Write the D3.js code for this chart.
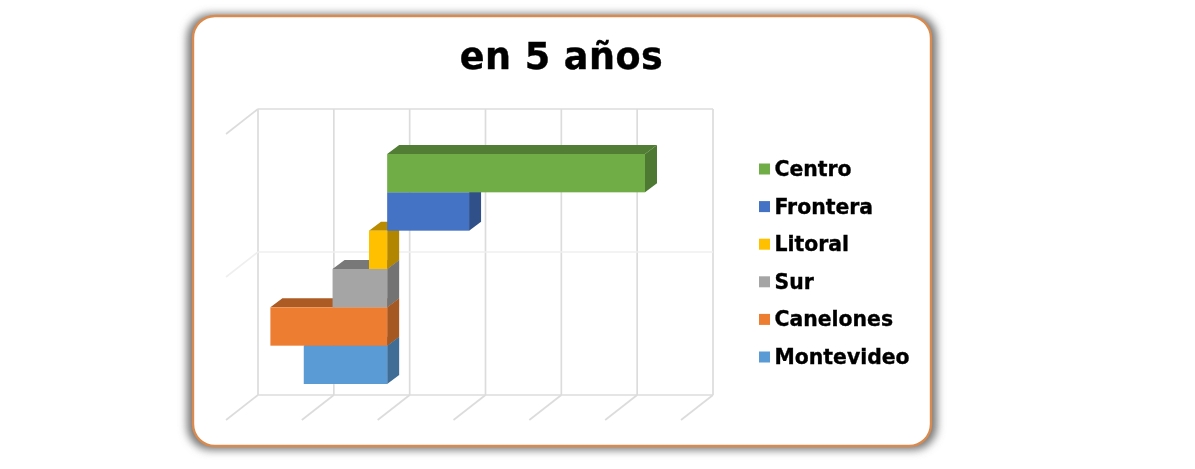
<!DOCTYPE html>
<html>
<head>
  <meta charset="utf-8">
  <title>en 5 años</title>
  <style>
    html, body { margin: 0; padding: 0; background: #fff; }
    svg { display: block; filter: blur(0.35px); }
    text { font-family: "DejaVu Sans", sans-serif; font-weight: bold; fill: #000; stroke: #000; }
  </style>
</head>
<body>
  <svg width="1195" height="469"></svg>

  <script src="https://d3js.org/d3.v7.min.js"></script>
  <script>
    var regions = ["Montevideo", "Canelones", "Sur", "Litoral", "Frontera", "Centro"]
    var values = [-5.5, -7.7, -3.6, -1.2, 5.4, 17]
    var colors = ["#5b9bd5", "#ed7d31", "#a5a5a5", "#ffc000", "#4472c4", "#70ad47"]
    var xTicks = [-10, -5, 0, 5, 10, 15, 20]
    var wallTicks = [0, 1, 2]
    var legendOrder = ["Centro", "Frontera", "Litoral", "Sur", "Canelones", "Montevideo"]

    var svg = d3.select("svg")

    // card
    var defs = svg.append("defs")
    var shadow = defs.append("filter").attr("id", "shadow")
      .attr("x", "-5%").attr("y", "-5%").attr("width", "110%").attr("height", "110%")
    shadow.append("feGaussianBlur").attr("stdDeviation", 4.5)

    svg.append("rect").attr("x", 187).attr("y", 14).attr("width", 750).attr("height", 436)
      .attr("rx", 24).attr("fill", "#777").attr("filter", "url(#shadow)")
    svg.append("rect").attr("x", 193).attr("y", 16).attr("width", 738).attr("height", 430)
      .attr("rx", 22).attr("fill", "#fff").attr("stroke", "#d98a4e").attr("stroke-width", 2.4)

    svg.append("text").attr("x", 561.5).attr("y", 69).attr("text-anchor", "middle")
      .attr("font-size", 36.5).attr("letter-spacing", 0.5).attr("stroke-width", 0.4).text("en 5 años")

    // walls, x is on the back plane
    var x = d3.scaleLinear().domain([-10, 20]).range([258, 713])
    var wallY = d3.scaleLinear().domain([0, 2]).range([395, 109])
    var floorDx = -32, floorDy = 25
    var grid = svg.append("g").attr("fill", "none").attr("stroke-width", 1.7)

    grid.selectAll(".v").data(xTicks).enter().append("line")
      .attr("x1", d => x(d)).attr("x2", d => x(d))
      .attr("y1", wallY(0)).attr("y2", wallY(2)).attr("stroke", "#dcdcdc")
    grid.selectAll(".h").data(wallTicks).enter().append("line")
      .attr("x1", x(-10)).attr("x2", x(20))
      .attr("y1", d => wallY(d)).attr("y2", d => wallY(d))
      .attr("stroke", d => d == 1 ? "#efefef" : "#dcdcdc")
    grid.selectAll(".fl").data(xTicks).enter().append("line")
      .attr("x1", d => x(d)).attr("x2", d => x(d) + floorDx)
      .attr("y1", wallY(0)).attr("y2", wallY(0) + floorDy).attr("stroke", "#dcdcdc")
    grid.selectAll(".sd").data(wallTicks.slice(1)).enter().append("line")
      .attr("x1", x(-10)).attr("x2", x(-10) + floorDx)
      .attr("y1", d => wallY(d)).attr("y2", d => wallY(d) + floorDy)
      .attr("stroke", d => d == 1 ? "#efefef" : "#dcdcdc")

    // bars, front face sits a bit in front of the wall
    var faceDx = -22.5
    var depthX = 12, depthY = -9
    var y = d3.scaleBand().domain(regions).range([384, 154])
    var bx = v => x(v) + faceDx

    var bars = svg.append("g").selectAll("g")
      .data(regions.map((r, i) => ({region: r, value: values[i], color: colors[i]})))
      .enter().append("g")

    bars.append("polygon")  // top
      .attr("fill", d => d3.color(d.color).darker(0.9))
      .attr("points", d => {
        var a = bx(Math.min(d.value, 0)), b = bx(Math.max(d.value, 0)), t = y(d.region)
        return [[a, t], [b, t], [b + depthX, t + depthY], [a + depthX, t + depthY]].join(" ")
      })
    bars.append("polygon")  // right side
      .attr("fill", d => d3.color(d.color).darker(1))
      .attr("points", d => {
        var b = bx(Math.max(d.value, 0)), t = y(d.region), h = y.bandwidth()
        return [[b, t], [b + depthX, t + depthY], [b + depthX, t + h + depthY], [b, t + h]].join(" ")
      })
    bars.append("rect")  // front
      .attr("fill", d => d.color)
      .attr("x", d => bx(Math.min(d.value, 0)))
      .attr("y", d => y(d.region))
      .attr("width", d => Math.abs(bx(d.value) - bx(0)))
      .attr("height", y.bandwidth())

    // legend
    var legendY = d3.scalePoint().domain(legendOrder).range([169, 357])
    var legend = svg.append("g").selectAll("g").data(legendOrder).enter().append("g")
      .attr("transform", d => "translate(759," + legendY(d) + ")")
    legend.append("rect").attr("x", 0).attr("y", -5.5).attr("width", 11).attr("height", 11)
      .attr("fill", d => colors[regions.indexOf(d)])
    legend.append("text").attr("x", 15.5).attr("y", 7).attr("font-size", 20.4)
      .attr("stroke-width", 0.35).text(d => d)
  </script>
</body>
</html>
